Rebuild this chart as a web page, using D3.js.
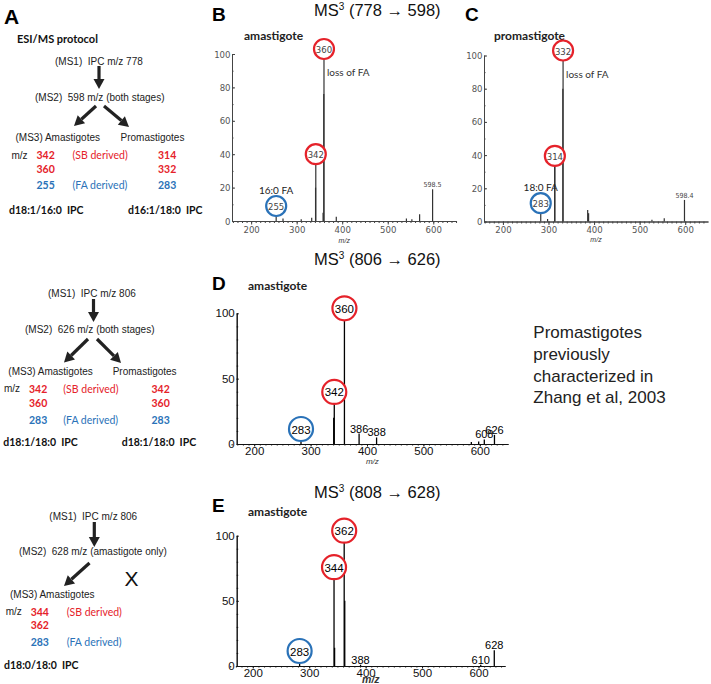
<!DOCTYPE html>
<html>
<head>
<meta charset="utf-8">
<script src="https://cdn.jsdelivr.net/npm/d3@7"></script>
<style>
body { margin: 0; background: #fff; }
svg text { white-space: pre; }
</style>
</head>
<body>
<svg id="fig" width="711" height="684"></svg>
<script>
// ---- data ----
var xTickVals = [200, 300, 400, 500, 600];
var bcYTicks = [0, 20, 40, 60, 80, 100];
var deYTicks = [0, 50, 100];

// B: amastigote, MS3 (778 -> 598)
var bMz  = [255, 270, 310, 333, 341.5, 342, 358, 359.5, 360, 387, 541, 553, 570, 598.5];
var bInt = [6, 1.5, 1, 2, 20, 37, 5, 76, 100, 2.5, 1.5, 1, 4, 19];
var bCircMz = [255, 342, 360];
var bCircKind = ["FA", "SB", "SB"];
var bTagMz = [598.5];
var bTagTxt = ["598.5"];

// C: promastigote, MS3 (778 -> 598)
var cMz  = [283, 298, 313.5, 314, 331.5, 332, 386, 388, 527, 554, 598.4];
var cInt = [8, 1.5, 36.5, 36.5, 80, 100, 7, 5, 1, 2, 13];
var cCircMz = [283, 314, 332];
var cCircKind = ["FA", "SB", "SB"];
var cTagMz = [598.4];
var cTagTxt = ["598.4"];

// D: amastigote, MS3 (806 -> 626)
var dMz  = [283, 341, 342, 360, 386, 417, 585, 598, 608, 626];
var dInt = [6, 20, 36, 100, 8, 5, 1.5, 2, 3.5, 7];
var dCircMz = [283, 342, 360];
var dCircKind = ["FA", "SB", "SB"];
var dTagMz = [386, 417, 608, 626];
var dTagTxt = ["386", "388", "608", "626"];

// E: amastigote, MS3 (808 -> 628)
var eMz  = [283, 344, 345, 362, 363, 391, 604, 628];
var eInt = [3, 72, 14, 100, 50, 1, 1, 12];
var eCircMz = [283, 344, 362];
var eCircKind = ["FA", "SB", "SB"];
var eTagMz = [391, 604, 628];
var eTagTxt = ["388", "610", "628"];

// ---- drawing ----
var red = "#e5222a";
var blue = "#2a72b8";
var kindColor = { SB: red, FA: blue };

var arial = "'Liberation Sans', Arial, sans-serif";
var calibri = "Lato, 'Open Sans', sans-serif";
var narrow = "'Liberation Sans Narrow', 'DejaVu Sans Condensed', sans-serif";

var svg = d3.select("#fig");

function txt(x, y, s, o) {
	o = o || {};
	var t = svg.append("text")
		.attr("x", x)
		.attr("y", y)
		.attr("font-family", o.font || arial)
		.attr("font-size", o.size || 10)
		.attr("fill", o.fill || "#222")
		.attr("text-anchor", o.anchor || "start")
		.attr("dominant-baseline", "central")
		.text(s);
	if (o.bold) t.attr("font-weight", "bold");
	if (o.italic) t.attr("font-style", "italic");
	return t;
}

// thick arrow with a filled head
function arrow(x1, y1, x2, y2) {
	var dx = x2 - x1, dy = y2 - y1;
	var len = Math.sqrt(dx * dx + dy * dy);
	var ux = dx / len, uy = dy / len;
	var hl = 10, hw = 5.5;
	var bx = x2 - ux * hl, by = y2 - uy * hl;
	svg.append("line")
		.attr("x1", x1).attr("y1", y1)
		.attr("x2", bx).attr("y2", by)
		.attr("stroke", "#222")
		.attr("stroke-width", 3.2);
	svg.append("polygon")
		.attr("points", [
			[x2, y2],
			[bx - uy * hw, by + ux * hw],
			[bx + uy * hw, by - ux * hw]
		].map(function (p) { return p.join(","); }).join(" "))
		.attr("fill", "#222");
}

function spectrum(p) {
	var x = d3.scaleLinear().domain(p.dom).range(p.xr);
	var y = d3.scaleLinear().domain([0, 100]).range(p.yr);
	var y0 = p.yr[0];
	var bc = p.kind == "bc";
	var g = svg.append("g");

	// minor ticks on m/z axis
	g.append("g")
		.attr("transform", "translate(0," + y0 + ")")
		.call(d3.axisBottom(x).tickValues(d3.range(160, p.dom[1], 10)).tickSize(bc ? 2 : 1.5).tickSizeOuter(0).tickFormat(""));
	// major ticks on m/z axis
	g.append("g")
		.attr("transform", "translate(0," + y0 + ")")
		.call(d3.axisBottom(x).tickValues(xTickVals).tickSize(bc ? 3.5 : 2.5).tickSizeOuter(0).tickPadding(bc ? 1.5 : 0.8));
	// intensity axis
	g.append("g")
		.attr("transform", "translate(" + p.xr[0] + ",0)")
		.call(d3.axisLeft(y).tickValues(bc ? bcYTicks : deYTicks).tickSize(bc ? -3 : -2).tickSizeOuter(0).tickPadding(bc ? 1.5 : 2));
	g.append("g")
		.attr("transform", "translate(" + p.xr[0] + ",0)")
		.call(d3.axisLeft(y).tickValues(d3.range(0, 101, 10)).tickSize(-1.5).tickSizeOuter(0).tickFormat(""));

	g.selectAll(".domain, .tick line").attr("stroke", bc ? "#444" : "#111").attr("stroke-width", 1);
	g.selectAll(".tick text")
		.attr("font-family", bc ? narrow : arial)
		.attr("font-size", bc ? 9.5 : 11.5)
		.attr("fill", bc ? "#555" : "#111");

	// peaks
	g.selectAll("line.peak")
		.data(d3.zip(p.mz, p.int))
		.join("line")
		.attr("class", "peak")
		.attr("x1", function (d) { return x(d[0]); })
		.attr("x2", function (d) { return x(d[0]); })
		.attr("y1", y0)
		.attr("y2", function (d) { return y(d[1]); })
		.attr("stroke", bc ? "#333" : "#000")
		.attr("stroke-width", bc ? 1.2 : 1.3);

	function peakInt(m) {
		return d3.max(p.mz.map(function (v, i) { return v == m ? p.int[i] : 0; }));
	}

	// circled fragments
	var r = bc ? 10 : 12;
	p.circMz.forEach(function (m, i) {
		var cx = x(m);
		var cy = Math.min(y(peakInt(m)) - 5, y0 - r - 3);
		svg.append("circle")
			.attr("cx", cx).attr("cy", cy).attr("r", r)
			.attr("fill", "#fff")
			.attr("stroke", kindColor[p.circKind[i]])
			.attr("stroke-width", 2.2);
		txt(cx, cy + 0.5, String(m), {
			anchor: "middle",
			font: bc ? narrow : arial,
			size: bc ? 9.5 : 11.5,
			fill: bc ? "#444" : "#000"
		});
		if (p.faLabel && p.circKind[i] == "FA") {
			txt(cx, cy - r - 6, p.faLabel, { anchor: "middle", font: calibri, size: 10, fill: "#222" });
		}
	});

	// small peak labels
	p.tagMz.forEach(function (m, i) {
		txt(x(m), y(peakInt(m)) - (bc ? 4 : 5), p.tagTxt[i], {
			anchor: "middle",
			font: bc ? narrow : arial,
			size: bc ? 7 : 11,
			fill: bc ? "#444" : "#000"
		});
	});

	if (p.loss) {
		var top = d3.max(p.int);
		var mTop = p.mz[p.int.indexOf(top)];
		txt(x(mTop) + 3, y(top) + 18, "loss of FA", { font: calibri, size: 10, fill: "#333" });
	}

	// axis title
	txt((p.xr[0] + p.xr[1]) / 2, y0 + p.mzGap, "m/z", {
		anchor: "middle",
		italic: true,
		bold: !!p.bigMz,
		font: arial,
		size: bc ? 7 : (p.bigMz ? 10.5 : 8),
		fill: "#333"
	});
}

// ---- panel letters, titles ----
txt(4, 16, "A", { size: 21, bold: true, fill: "#000" });
txt(212, 14, "B", { size: 19, bold: true, fill: "#000" });
txt(465, 14, "C", { size: 19, bold: true, fill: "#000" });
txt(212, 283, "D", { size: 19, bold: true, fill: "#000" });
txt(212, 505, "E", { size: 19, bold: true, fill: "#000" });

function msTitle(x, yb, a, b) {
	var t = svg.append("text")
		.attr("x", x).attr("y", yb)
		.attr("font-family", arial)
		.attr("font-size", 16.5)
		.attr("fill", "#111");
	t.append("tspan").text("MS");
	t.append("tspan").attr("font-size", 10).attr("dy", -6).text("3");
	t.append("tspan").attr("dy", 6).text(" (" + a + " \u2192 " + b + ")");
}
msTitle(314, 16, 778, 598);
msTitle(314, 265, 806, 626);
msTitle(314, 498, 808, 628);

txt(244, 35, "amastigote", { font: calibri, size: 12, bold: true, fill: "#222" });
txt(494, 35, "promastigote", { font: calibri, size: 12, bold: true, fill: "#222" });
txt(248, 285, "amastigote", { font: calibri, size: 12, bold: true, fill: "#222" });
txt(248, 511, "amastigote", { font: calibri, size: 12, bold: true, fill: "#222" });

spectrum({ kind: "bc", dom: [158, 651], xr: [232, 456.5], yr: [221, 54], mzGap: 19,
	mz: bMz, int: bInt, circMz: bCircMz, circKind: bCircKind, tagMz: bTagMz, tagTxt: bTagTxt,
	faLabel: "16:0 FA", loss: true });
spectrum({ kind: "bc", dom: [158.5, 650], xr: [484, 708], yr: [221.5, 55.5], mzGap: 18,
	mz: cMz, int: cInt, circMz: cCircMz, circKind: cCircKind, tagMz: cTagMz, tagTxt: cTagTxt,
	faLabel: "18:0 FA", loss: true });
spectrum({ kind: "de", dom: [169, 650], xr: [236.7, 508], yr: [444, 313.3], mzGap: 17.5,
	mz: dMz, int: dInt, circMz: dCircMz, circKind: dCircKind, tagMz: dTagMz, tagTxt: dTagTxt });
spectrum({ kind: "de", dom: [171.5, 647], xr: [236.7, 505], yr: [666, 535.7], mzGap: 13,
	mz: eMz, int: eInt, circMz: eCircMz, circKind: eCircKind, tagMz: eTagMz, tagTxt: eTagTxt, bigMz: true });

// ---- ESI/MS protocol (panel A) ----
function num(x, y, s, col) { txt(x, y, s, { font: calibri, size: 10.5, bold: true, fill: col }); }
function note(x, y, s, col) { txt(x, y, s, { font: calibri, size: 10.5, fill: col }); }
function ipc(x, y, s) { txt(x, y, s, { font: calibri, size: 10.5, bold: true, fill: "#111" }); }

txt(17, 38, "ESI/MS protocol", { font: calibri, size: 11, bold: true, fill: "#111" });

// block 1
txt(55, 61, "(MS1)  IPC m/z 778");
arrow(99, 66, 99, 89);
txt(35, 97, "(MS2)  598 m/z (both stages)");
arrow(96, 106, 74, 126);
arrow(104, 106, 129, 127);
txt(15.5, 137.5, "(MS3) Amastigotes");
txt(120.5, 137.5, "Promastigotes");
txt(11.5, 155, "m/z");
num(36.5, 155, "342", red); note(72.5, 155, "(SB derived)", red); num(158, 155, "314", red);
num(36.5, 168.5, "360", red); num(158, 168.5, "332", red);
num(36.5, 185, "255", blue); note(72.5, 185, "(FA derived)", blue); num(158, 185, "283", blue);
ipc(9, 210, "d18:1/16:0  IPC");
ipc(128, 210, "d16:1/18:0  IPC");

// block 2
txt(48, 293.5, "(MS1)  IPC m/z 806");
arrow(93.5, 299, 93.5, 322);
txt(25, 329.5, "(MS2)  626 m/z (both stages)");
arrow(88, 339, 64, 362.5);
arrow(97, 339, 121, 363);
txt(8.3, 371, "(MS3) Amastigotes");
txt(112.7, 371, "Promastigotes");
txt(4, 388.5, "m/z");
num(29, 388.5, "342", red); note(63.3, 388.5, "(SB derived)", red); num(151.5, 388.5, "342", red);
num(29, 402.5, "360", red); num(151.5, 402.5, "360", red);
num(29, 420, "283", blue); note(63.3, 420, "(FA derived)", blue); num(151.5, 420, "283", blue);
ipc(3.3, 441.7, "d18:1/18:0  IPC");
ipc(121.7, 441.7, "d18:1/18:0  IPC");

// block 3
txt(49.3, 516.7, "(MS1)  IPC m/z 806");
arrow(94.3, 522, 94.3, 547);
txt(19, 551.7, "(MS2)  628 m/z (amastigote only)");
arrow(89.5, 563, 64, 586);
txt(131.5, 578.5, "X", { size: 21, anchor: "middle", fill: "#111" });
txt(10, 594, "(MS3) Amastigotes");
txt(5.7, 611.7, "m/z");
num(30.7, 611.7, "344", red); note(66.7, 611.7, "(SB derived)", red);
num(30.7, 625, "362", red);
num(30.7, 642.3, "283", blue); note(66.7, 642.3, "(FA derived)", blue);
ipc(4, 665, "d18:0/18:0  IPC");

// ---- side note ----
var side = ["Promastigotes", "previously", "characterized in", "Zhang et al, 2003"];
side.forEach(function (s, i) {
	svg.append("text")
		.attr("x", 533.3)
		.attr("y", 338.3 + i * 21.7)
		.attr("font-family", arial)
		.attr("font-size", 17)
		.attr("fill", "#222")
		.text(s);
});
</script>
</body>
</html>
